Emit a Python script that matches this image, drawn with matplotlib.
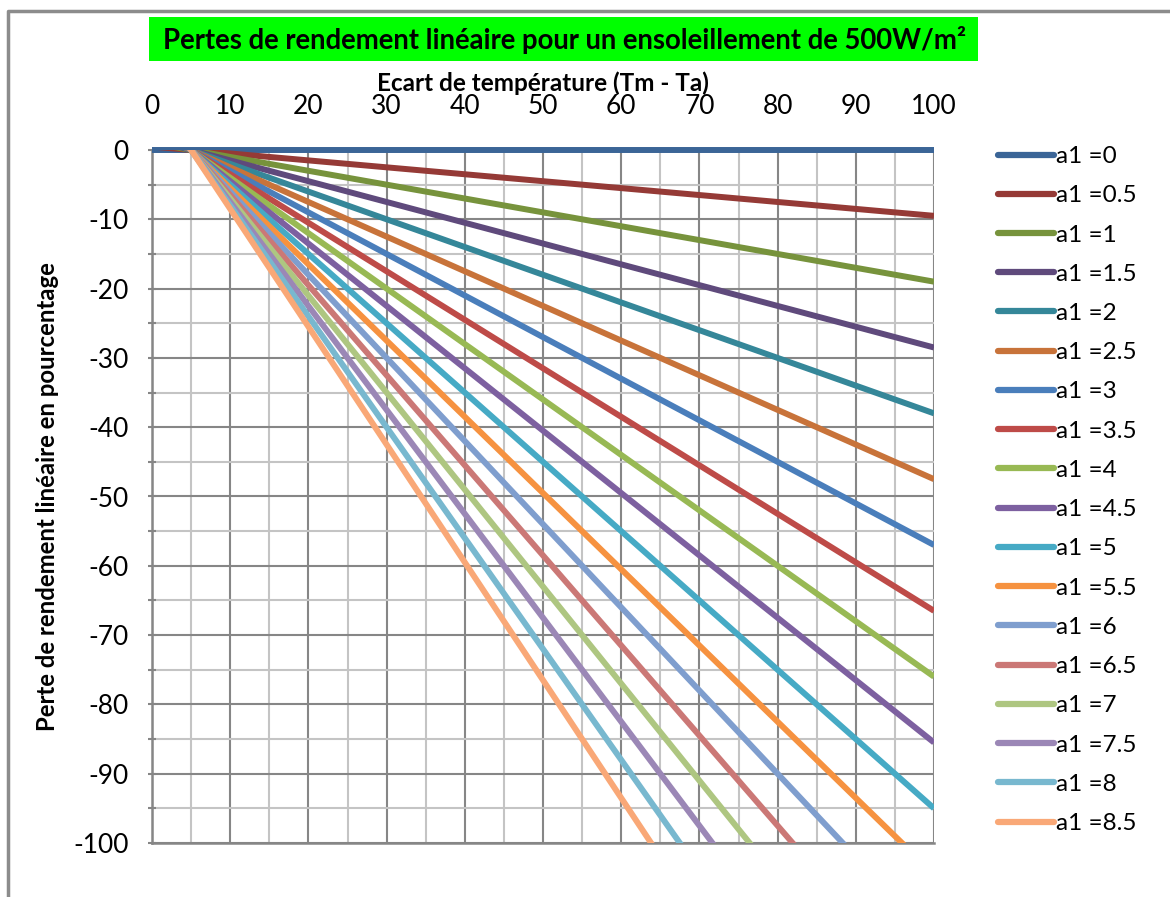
import matplotlib
matplotlib.use('Agg')
import matplotlib.pyplot as plt
from matplotlib.lines import Line2D
from matplotlib.patches import Rectangle
from matplotlib.ticker import MultipleLocator

# coefficient a1 of each series, and the loss read at the two ends of the x range
a1_values = [0, 0.5, 1, 1.5, 2, 2.5, 3, 3.5, 4, 4.5, 5, 5.5, 6, 6.5, 7, 7.5, 8, 8.5]
x_ends = [0, 100]
loss_at_0 = [0, 0.5, 1, 1.5, 2, 2.5, 3, 3.5, 4, 4.5, 5, 5.5, 6, 6.5, 7, 7.5, 8, 8.5]
loss_at_100 = [0, -9.5, -19, -28.5, -38, -47.5, -57, -66.5, -76, -85.5, -95,
               -104.5, -114, -123.5, -133, -142.5, -152, -161.5]
labels = ['a1 =%g' % a for a in a1_values]

colors = ['#3b6597', '#953a36', '#77933c', '#5f4a7c', '#358799', '#c8733a',
          '#4a7ebb', '#be4b48', '#98b954', '#7d60a0', '#46aac5', '#f69240',
          '#7f9ece', '#cb7876', '#aec681', '#9b87b6', '#78b8cf', '#f9a877']

plt.rcParams['font.family'] = ['Lato', 'DejaVu Sans']
plt.rcParams['axes.unicode_minus'] = False

W, H = 1170, 897
fig = plt.figure(figsize=(W / 100, H / 100), dpi=100)

# plot area in pixels: x 152..934, y 150..843
ax = fig.add_axes([152 / W, 1 - 843 / H, (934 - 152) / W, (843 - 150) / H])

for i, a in enumerate(a1_values):
    ax.plot(x_ends, [loss_at_0[i], loss_at_100[i]], color=colors[i], lw=4.3,
            solid_capstyle='butt', label=labels[i], zorder=3,
            clip_on=(a != 0))

ax.set_xlim(0, 100)
ax.set_ylim(-100, 0)
ax.xaxis.set_major_locator(MultipleLocator(10))
ax.xaxis.set_minor_locator(MultipleLocator(5))
ax.yaxis.set_major_locator(MultipleLocator(10))
ax.yaxis.set_minor_locator(MultipleLocator(5))
ax.grid(which='major', color='#868686', lw=1.5, zorder=1)
ax.grid(which='minor', color='#c4c4c4', lw=1.5, zorder=1)

ax.xaxis.tick_top()
ax.xaxis.set_label_position('top')
ax.tick_params(axis='x', which='both', length=0, labelsize=19, pad=22)
ax.tick_params(axis='y', which='both', direction='inout', length=6,
               color='#868686', width=1.5, labelsize=19, pad=14)
for s in ['top', 'right']:
    ax.spines[s].set_visible(False)
for s in ['left', 'bottom']:
    ax.spines[s].set_color('#868686')
    ax.spines[s].set_linewidth(1.8)

ax.set_xlabel('Ecart de température (Tm - Ta)', fontsize=17.5, fontweight='bold')
ax.xaxis.label.set_va('center')
ax.xaxis.set_label_coords(0.5, (843 - 83) / (843 - 150))
ax.set_ylabel('Perte de rendement linéaire en pourcentage', fontsize=17.2,
              fontweight='bold', labelpad=10)

leg = ax.legend(loc='upper left', bbox_to_anchor=(998 / W, 1 - 146 / H),
                bbox_transform=fig.transFigure, frameon=False, fontsize=17.5,
                handlelength=2.3, handletextpad=0.08, labelspacing=0.75,
                borderaxespad=0, borderpad=0)
for h in leg.get_lines():
    h.set_linewidth(4.5)
    h.set_solid_capstyle('round')

# title in a green box
fig.patches.append(Rectangle((149 / W, 1 - 61 / H), (978 - 149) / W, 44 / H,
                             transform=fig.transFigure, facecolor='#00ff00',
                             edgecolor='none', zorder=0))
fig.text(565 / W, 1 - 40 / H,
         'Pertes de rendement linéaire pour un ensoleillement de 500W/m²',
         ha='center', va='center', fontsize=19.8, fontweight='bold')

# outer chart border (left and top edges)
fig.add_artist(Line2D([8 / W, 8 / W, 1], [0, 1 - 11 / H, 1 - 11 / H],
                      transform=fig.transFigure, color='#8c8c8c', lw=2.5))

fig.savefig('out.png', dpi=100)
